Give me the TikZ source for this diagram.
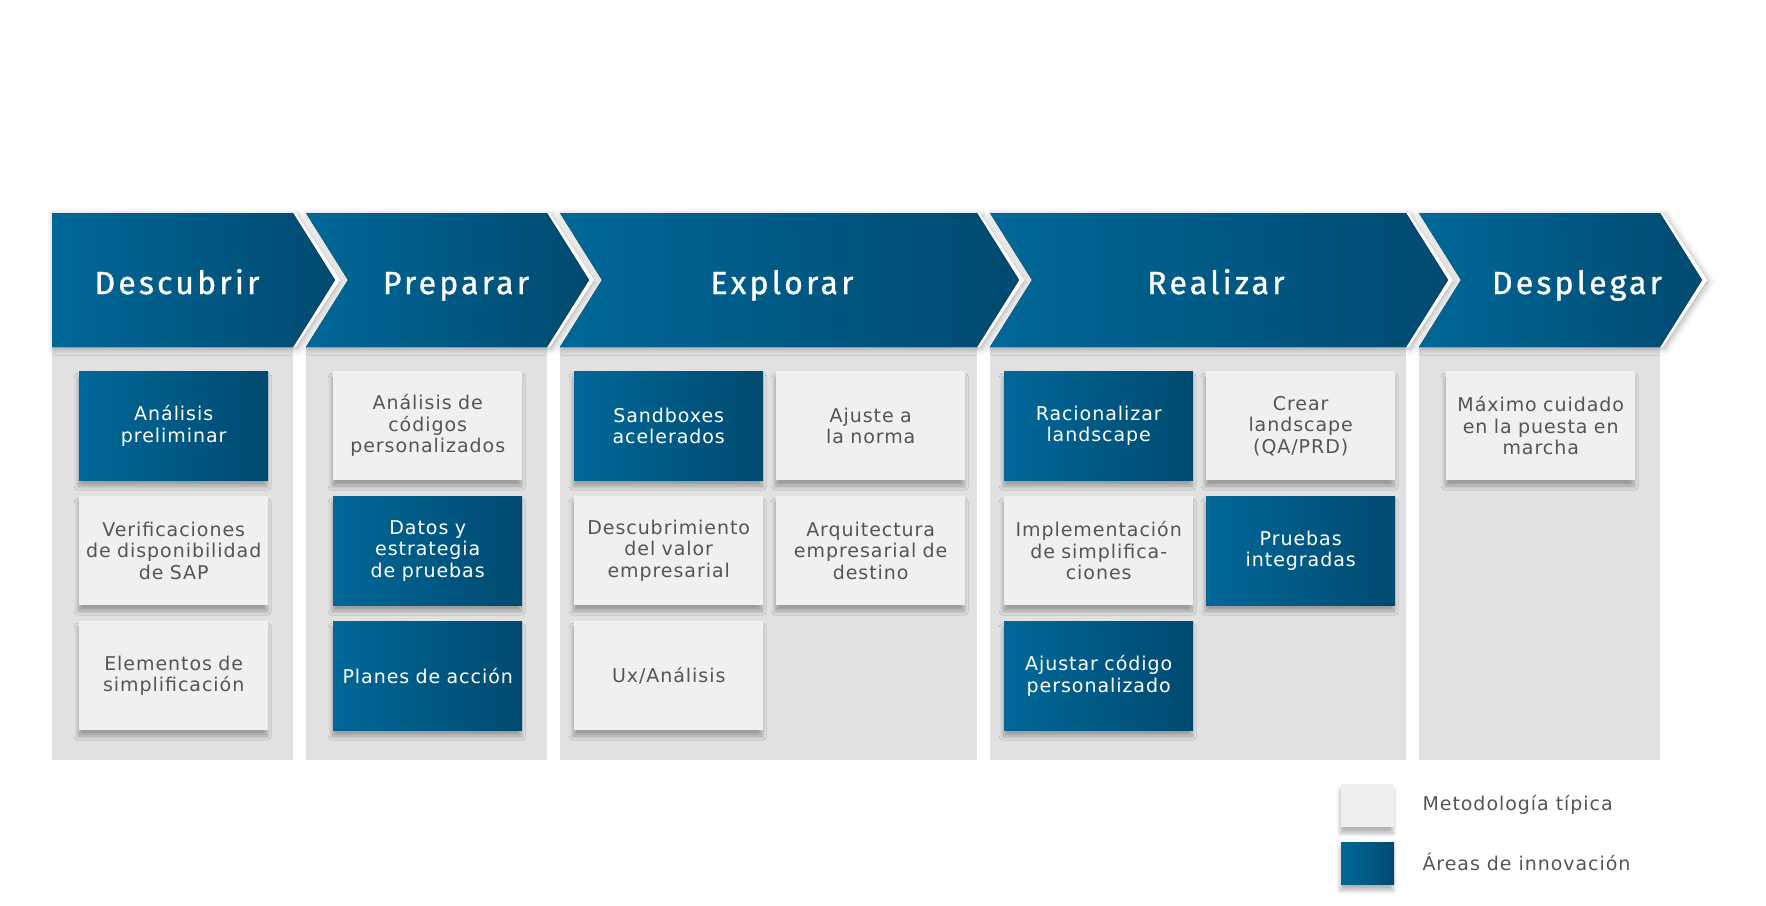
\documentclass[tikz,border=0pt]{standalone}
\usepackage{fontspec}
\usetikzlibrary{shadows.blur}
\newfontfamily\cardfont[LetterSpace=5]{DejaVu Sans}
\newfontfamily\titlefont[LetterSpace=10,FakeBold=1]{Fira Sans}
\definecolor{BlueLight}{RGB}{0,104,153}
\definecolor{BlueDark}{RGB}{0,74,112}
\definecolor{PanelGray}{RGB}{225,225,225}
\definecolor{CardGray}{RGB}{240,240,240}
\definecolor{TextGray}{RGB}{85,85,85}

\tikzset{
  softshadow/.style={blur shadow={shadow xshift=-1pt, shadow yshift=-6pt,
      shadow blur radius=4pt, shadow blur steps=8, shadow opacity=30}},
  card/.style={anchor=north west, minimum width=189pt, minimum height=109pt,
    inner sep=0pt, text width=189pt, align=center,
    font=\cardfont\fontsize{19}{21.5}\selectfont, softshadow},
  typical/.style={card, fill=CardGray, text=TextGray},
  innov/.style={card, left color=BlueLight, right color=BlueDark, text=white},
  phasetitle/.style={anchor=base, text=white,
    font=\titlefont\fontsize{32}{38}\selectfont},
  keylabel/.style={anchor=west, text=TextGray,
    font=\cardfont\fontsize{19}{22}\selectfont},
}

\begin{document}
\begin{tikzpicture}[x=1pt, y=-1pt]
    \useasboundingbox (0,0) rectangle (1766,905);

    % left edge / right edge / notch depth / title centre / title
    \def\phases{52/293/0/177/Descubrir, 306/547/42/456/Preparar,
        560/977/42/782/Explorar, 990/1406/42/1216/Realizar,
        1419/1660/42/1577/Desplegar}

    % Gray panels below the arrows
    \foreach \xa/\xb/\nd/\tx/\ttl in \phases {
        \fill[PanelGray] (\xa,347) rectangle (\xb,760);
    }

    % White halo round each tip, with its shadow
    \foreach \xa/\xb/\nd/\tx/\ttl in \phases {
        \fill[white, blur shadow={shadow xshift=2pt, shadow yshift=-2pt,
            shadow blur radius=6pt, shadow opacity=30}]
            (\xa,213) -- (\xb+3,213) -- (\xb+47,280) -- (\xb+3,347)
            -- (\xa,347) -- (\xa+\nd,280) -- cycle;
    }

    % Chevrons and their titles
    \foreach \xa/\xb/\nd/\tx/\ttl in \phases {
        \fill[left color=BlueLight, right color=BlueDark]
            (\xa,213) -- (\xb,213) -- (\xb+42,280) -- (\xb,347)
            -- (\xa,347) -- (\xa+\nd,280) -- cycle;
        \node[phasetitle] (\ttl) at (\tx,294) {\ttl};
    }

    % Descubrir
    \node[innov]   (desc-1) at (79,371) {Análisis\\preliminar};
    \node[typical] (desc-2) at (79,496) {Verificaciones\\de disponibilidad\\de SAP};
    \node[typical] (desc-3) at (79,621) {Elementos de\\simplificación};

    % Preparar
    \node[typical] (prep-1) at (333,371) {Análisis de\\códigos\\personalizados};
    \node[innov]   (prep-2) at (333,496) {Datos y\\estrategia\\de pruebas};
    \node[innov]   (prep-3) at (333,621) {Planes de acción};

    % Explorar
    \node[innov]   (expl-11) at (574,371) {Sandboxes\\acelerados};
    \node[typical] (expl-12) at (776,371) {Ajuste a\\la norma};
    \node[typical] (expl-21) at (574,496) {Descubrimiento\\del valor\\empresarial};
    \node[typical] (expl-22) at (776,496) {Arquitectura\\empresarial de\\destino};
    \node[typical] (expl-31) at (574,621) {Ux/Análisis};

    % Realizar
    \node[innov]   (real-11) at (1004,371) {Racionalizar\\landscape};
    \node[typical] (real-12) at (1206,371) {Crear\\landscape\\(QA/PRD)};
    \node[typical] (real-21) at (1004,496) {Implementación\\de simplifica-\\ciones};
    \node[innov]   (real-22) at (1206,496) {Pruebas\\integradas};
    \node[innov]   (real-31) at (1004,621) {Ajustar código\\personalizado};

    % Desplegar
    \node[typical] (depl-1) at (1446,371) {Máximo cuidado\\en la puesta en\\marcha};

    % Legend
    \node[typical, minimum width=53pt, minimum height=43pt, text width=53pt]
        (key-typical) at (1341,784) {};
    \node[innov, minimum width=53pt, minimum height=42pt, text width=53pt]
        (key-innov) at (1341,842) {};
    \node[keylabel] (key-typical-text) at (1419,805) {Metodología típica};
    \node[keylabel] (key-innov-text) at (1419,862) {Áreas de innovación};
\end{tikzpicture}
\end{document}
